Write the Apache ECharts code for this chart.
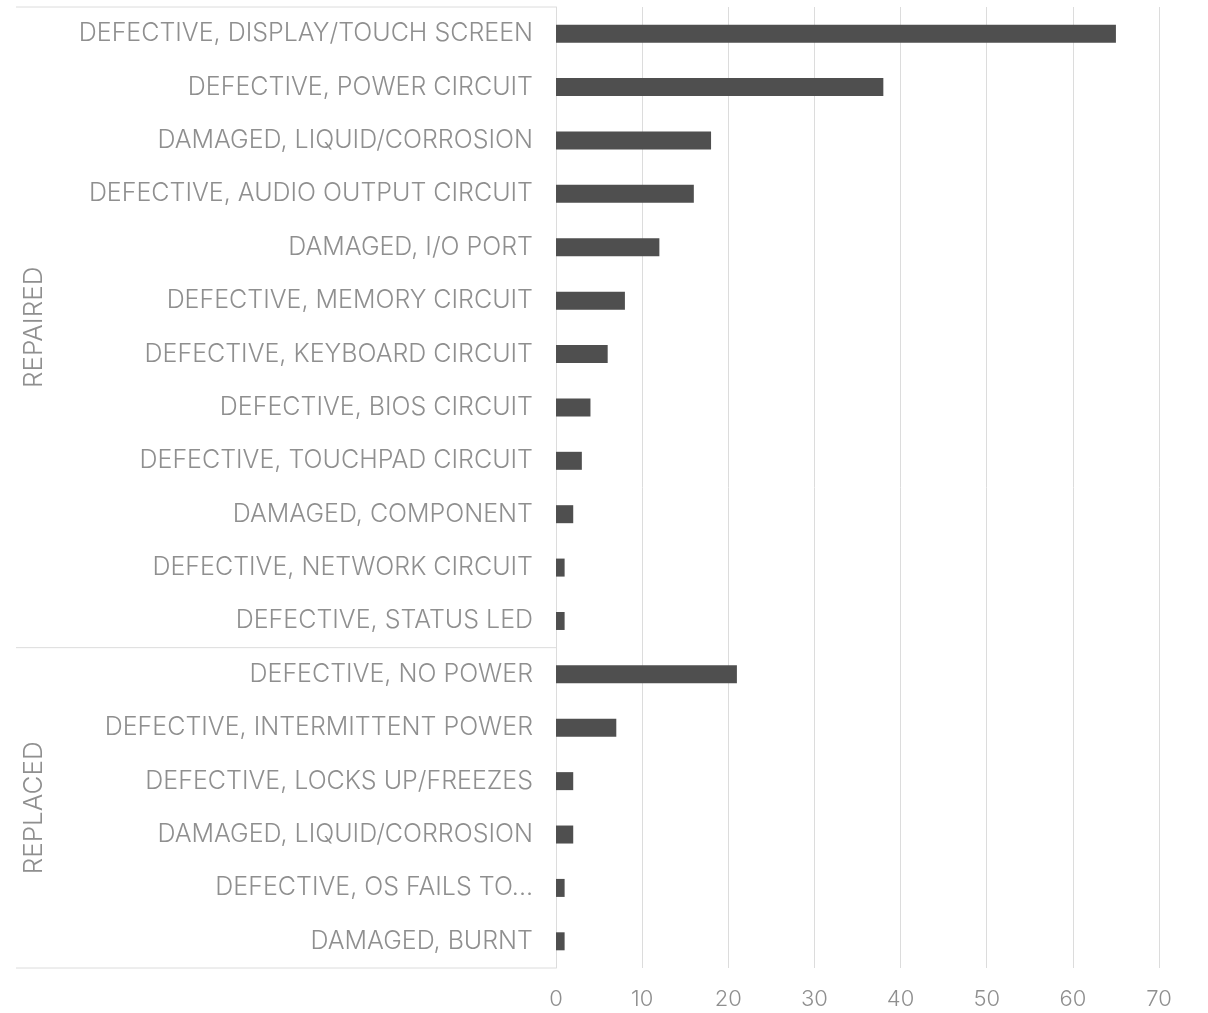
<!DOCTYPE html>
<html>
<head>
<meta charset="utf-8">
<script src="https://cdn.jsdelivr.net/npm/echarts@6/dist/echarts.min.js"></script>
<style>
  html, body { margin: 0; padding: 0; background: #fff; }
  #chart { width: 1208px; height: 1013px; }
</style>
</head>
<body>
<div id="chart"></div>
<script>
// groups on the outer category level
const groups = ['REPAIRED', 'REPLACED']

const repairedCauses = [
    'DEFECTIVE, DISPLAY/TOUCH SCREEN',
    'DEFECTIVE, POWER CIRCUIT',
    'DAMAGED, LIQUID/CORROSION',
    'DEFECTIVE, AUDIO OUTPUT CIRCUIT',
    'DAMAGED, I/O PORT',
    'DEFECTIVE, MEMORY CIRCUIT',
    'DEFECTIVE, KEYBOARD CIRCUIT',
    'DEFECTIVE, BIOS CIRCUIT',
    'DEFECTIVE, TOUCHPAD CIRCUIT',
    'DAMAGED, COMPONENT',
    'DEFECTIVE, NETWORK CIRCUIT',
    'DEFECTIVE, STATUS LED'
]
const repairedCounts = [65, 38, 18, 16, 12, 8, 6, 4, 3, 2, 1, 1]

const replacedCauses = [
    'DEFECTIVE, NO POWER',
    'DEFECTIVE, INTERMITTENT POWER',
    'DEFECTIVE, LOCKS UP/FREEZES',
    'DAMAGED, LIQUID/CORROSION',
    'DEFECTIVE, OS FAILS TO...',
    'DAMAGED, BURNT'
]
const replacedCounts = [21, 7, 2, 2, 1, 1]

const xTicks = [0, 10, 20, 30, 40, 50, 60, 70]

const labelColor = '#8f8f8f'
const lineColor = '#dcdcdc'
const fontFamily = 'Inter, "Open Sans", sans-serif'

// keys are "GROUP|cause" so the repeated cause stays unique
const categories = [
    ...repairedCauses.map(c => groups[0] + '|' + c),
    ...replacedCauses.map(c => groups[1] + '|' + c)
]
const values = [...repairedCounts, ...replacedCounts]

const myChart = echarts.init(document.getElementById('chart'))

myChart.setOption({
    animation: false,
    backgroundColor: '#fff',
    grid: {left: 556, right: 49, top: 7, bottom: 45, containLabel: false},
    xAxis: {
        type: 'value',
        min: xTicks[0],
        max: xTicks[xTicks.length - 1],
        interval: 10,
        axisLine: {show: false},
        axisTick: {show: false},
        splitLine: {lineStyle: {color: lineColor, width: 1}},
        axisLabel: {
            margin: 20,
            color: labelColor,
            fontSize: 22,
            fontWeight: 300,
            fontFamily: fontFamily
        }
    },
    yAxis: {
        type: 'category',
        inverse: true,
        data: categories,
        axisLine: {show: true, lineStyle: {color: lineColor, width: 1}},
        axisTick: {show: false},
        axisLabel: {
            margin: 23,
            color: labelColor,
            fontSize: 25,
            fontWeight: 300,
            fontFamily: fontFamily,
            formatter: v => v.split('|')[1]
        }
    },
    series: [{
        type: 'bar',
        data: values,
        barWidth: 18,
        itemStyle: {color: '#4f4f4f'}
    }]
})

// outer level of the category axis: separators and rotated group names
const nRep = repairedCauses.length
const nAll = categories.length
const c0 = myChart.convertToPixel({yAxisIndex: 0}, 0)
const c1 = myChart.convertToPixel({yAxisIndex: 0}, 1)
const band = c1 - c0
const edge = i => myChart.convertToPixel({yAxisIndex: 0}, i) - band / 2
const axisX = myChart.convertToPixel({xAxisIndex: 0}, 0)
const leftX = 16

const yTop = edge(0)
const ySep = edge(nRep)
const yBot = edge(nAll)

const sepLine = y => ({
    type: 'line',
    shape: {x1: leftX, y1: y, x2: axisX, y2: y},
    style: {stroke: lineColor, lineWidth: 1}
})
const groupText = (name, yMid) => ({
    type: 'text',
    x: 34,
    y: yMid,
    rotation: Math.PI / 2,
    style: {
        text: name,
        fill: labelColor,
        font: '300 26px ' + fontFamily,
        align: 'center',
        verticalAlign: 'middle'
    }
})

myChart.setOption({
    graphic: [
        sepLine(yTop),
        sepLine(ySep),
        sepLine(yBot),
        groupText(groups[0], (yTop + ySep) / 2),
        groupText(groups[1], (ySep + yBot) / 2)
    ]
})
</script>
</body>
</html>
